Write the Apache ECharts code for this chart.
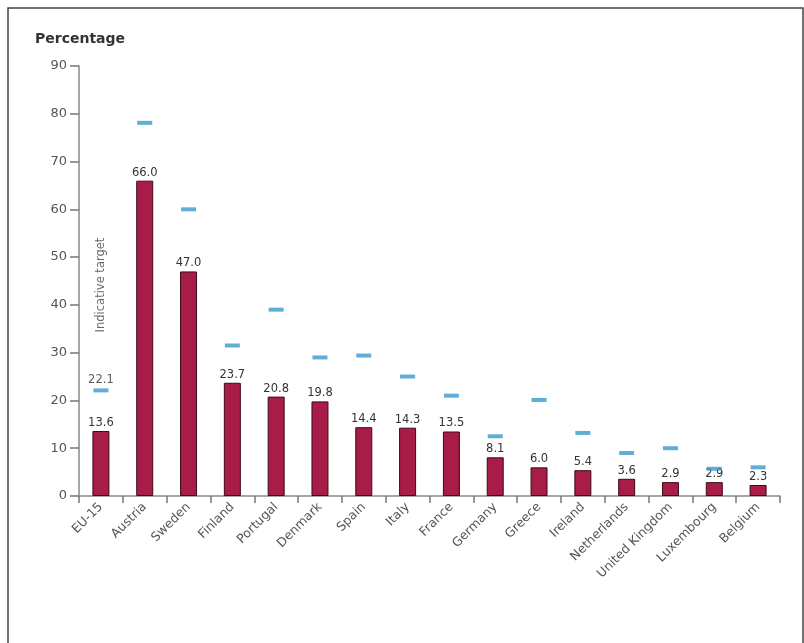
<!DOCTYPE html>
<html>
<head>
    <meta charset="utf-8" />
    <title>Renewable electricity share</title>
    <script src="https://cdn.jsdelivr.net/npm/echarts@6/dist/echarts.min.js"></script>
    <style>
        html, body { margin: 0; padding: 0; background: #fff; }
        #chart { width: 804px; height: 643px; }
    </style>
</head>
<body>
    <div id="chart"></div>
    <script type="text/javascript">
        // countries, actual share and indicative target (%)
        var countries = ['EU-15', 'Austria', 'Sweden', 'Finland', 'Portugal', 'Denmark', 'Spain', 'Italy',
            'France', 'Germany', 'Greece', 'Ireland', 'Netherlands', 'United Kingdom', 'Luxembourg', 'Belgium'];
        var shares = [13.6, 66.0, 47.0, 23.7, 20.8, 19.8, 14.4, 14.3, 13.5, 8.1, 6.0, 5.4, 3.6, 2.9, 2.9, 2.3];
        var targets = [22.1, 78.1, 60.0, 31.5, 39.0, 29.0, 29.4, 25.0, 21.0, 12.5, 20.1, 13.2, 9.0, 10.0, 5.7, 6.0];
        var yTicks = [0, 10, 20, 30, 40, 50, 60, 70, 80, 90];

        var font = 'DejaVu Sans';
        var myChart = echarts.init(document.getElementById('chart'));
        var option = {
            animation: false,
            backgroundColor: '#fff',
            graphic: [
                {
                    type: 'rect',
                    shape: { x: 8, y: 8, width: 795, height: 660 },
                    style: { fill: 'none', stroke: '#444', lineWidth: 1.5 }
                },
                {
                    type: 'text',
                    left: 35, top: 32,
                    style: { text: 'Percentage', font: 'bold 14px "DejaVu Sans"', fill: '#333' }
                }
            ],
            grid: { left: 79, right: 24, top: 66, bottom: 147 },
            xAxis: {
                type: 'category',
                data: countries,
                axisLine: { lineStyle: { color: '#888', width: 1.5 } },
                axisTick: { show: true, length: 7, lineStyle: { color: '#777', width: 1.5 } },
                axisLabel: { rotate: 45, color: '#555', fontFamily: font, fontSize: 12.5, margin: 9, interval: 0 }
            },
            yAxis: {
                type: 'value',
                min: yTicks[0],
                max: yTicks[yTicks.length - 1],
                interval: 10,
                splitLine: { show: false },
                axisLine: { show: true, lineStyle: { color: '#888', width: 1.5 } },
                axisTick: { show: true, length: 9, lineStyle: { color: '#777', width: 1.5 } },
                axisLabel: { color: '#555', fontFamily: font, fontSize: 13, margin: 12 }
            },
            series: [
                {
                    name: 'Share',
                    type: 'bar',
                    data: shares,
                    barWidth: 17,
                    itemStyle: { color: '#a81c48', borderColor: '#3c0a18', borderWidth: 1 },
                    label: {
                        show: true, position: 'top', distance: 2,
                        formatter: function (p) { return p.value.toFixed(1); },
                        color: '#333', fontFamily: font, fontSize: 11.5
                    },
                    z: 2
                },
                {
                    name: 'Indicative target',
                    type: 'scatter',
                    data: targets.map(function (v, i) {
                        return i === 0 ? {
                            value: v,
                            label: {
                                show: true, position: 'top', distance: 2,
                                formatter: function (p) { return p.value.toFixed(1); },
                                color: '#333', fontFamily: font, fontSize: 11.5
                            }
                        } : v;
                    }),
                    symbol: 'rect',
                    symbolSize: [15, 4],
                    itemStyle: { color: '#3a9acb' },
                    z: 3
                },
                {
                    name: 'Target note',
                    type: 'scatter',
                    data: targets.map(function (v, i) { return i === 0 ? v : null; }),
                    symbolSize: 0,
                    silent: true,
                    label: {
                        show: true, position: 'top', distance: 58, rotate: 90,
                        align: 'left', verticalAlign: 'middle',
                        formatter: 'Indicative target',
                        color: '#444', fontFamily: font, fontSize: 11.5
                    },
                    z: 3
                }
            ]
        };
        myChart.setOption(option);
    </script>
</body>
</html>
